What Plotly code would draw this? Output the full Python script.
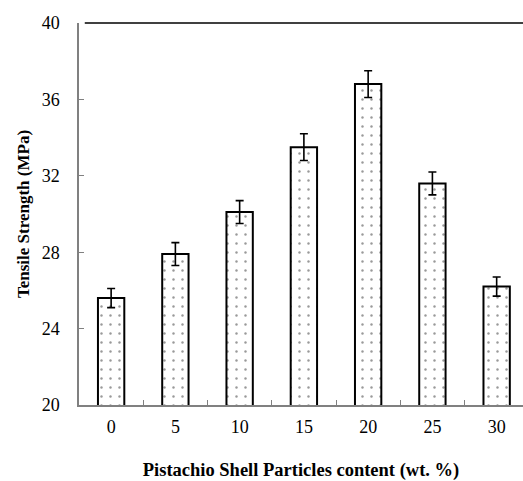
import plotly.graph_objects as go

categories = ["0", "5", "10", "15", "20", "25", "30"]
strength = [25.6, 27.9, 30.1, 33.5, 36.8, 31.6, 26.2]
errors = [0.5, 0.6, 0.6, 0.7, 0.7, 0.6, 0.5]

fig = go.Figure()
fig.add_trace(go.Bar(
    x=categories, y=strength,
    width=0.41,
    marker=dict(color="white", line=dict(color="black", width=2),
                pattern=dict(shape=".", fgcolor="#333", bgcolor="white", size=9, solidity=0.06)),
    error_y=dict(type="data", array=errors, color="black", thickness=1.6, width=4),
))

font = "Liberation Serif"
fig.update_layout(
    width=523, height=481,
    margin=dict(l=79, r=0, t=23, b=76),
    plot_bgcolor="white", paper_bgcolor="white",
    showlegend=False,
    font=dict(family=font, size=18, color="black"),
    xaxis=dict(type="category", range=[-0.5, 6.41], showline=True, linecolor="#808080", linewidth=1.5,
               ticks="inside", tickson="boundaries", ticklen=5, tickcolor="#808080",
               showgrid=False, ticklabelstandoff=5,
               title=dict(text="<b>Pistachio Shell Particles content (wt. %)</b>", font=dict(size=18.5), standoff=31)),
    yaxis=dict(range=[20, 40], tickvals=[20, 24, 28, 32, 36, 40], showline=True, linecolor="#808080", linewidth=1.5,
               ticks="inside", ticklen=5, tickcolor="#808080", showgrid=False, zeroline=False,
               ticklabelstandoff=14,
               title=dict(text="<b>Tensile Strength (MPa)</b>", font=dict(size=17), standoff=8)),
    shapes=[dict(type="line", xref="paper", yref="paper", x0=0.013, x1=1, y0=1, y1=1,
                 line=dict(color="black", width=1.6))],
)

fig.write_html("out.html")
